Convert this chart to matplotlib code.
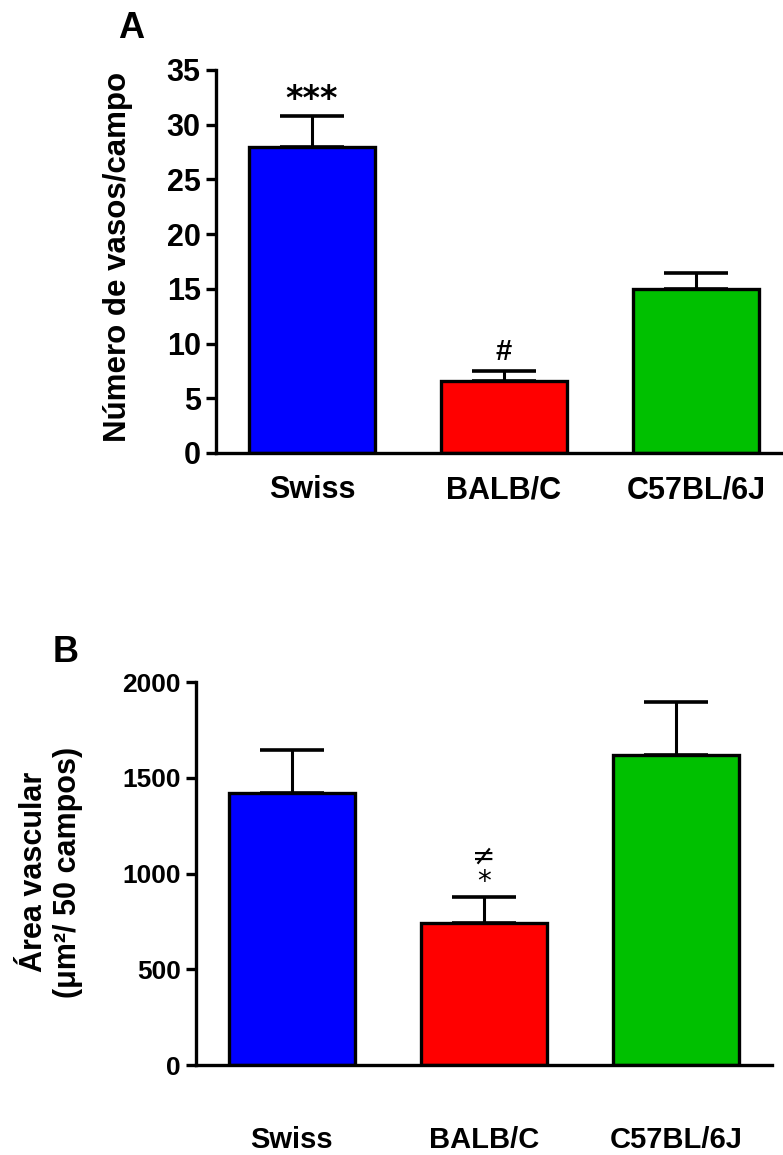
import matplotlib
matplotlib.use("Agg")
import matplotlib.pyplot as plt

plt.rcParams['font.family'] = ['Liberation Sans', 'DejaVu Sans']
plt.rcParams['font.weight'] = 'bold'

# data
strains = ['Swiss', 'BALB/C', 'C57BL/6J']
colors = ['#0000FF', '#FF0000', '#00C000']

vasos_mean = [27.95, 6.6, 15.0]
vasos_sem = [2.85, 0.85, 1.45]
vasos_marks = ['***', '#', '']

area_mean = [1420, 742, 1620]
area_sem = [225, 135, 276]
area_marks = ['', '≠\n*', '']

fig = plt.figure(figsize=(7.83, 11.55), dpi=100)

# Panel A
axA = fig.add_axes([0.2759, 0.6078, 0.7356, 0.3316])
# Panel B
axB = fig.add_axes([0.2503, 0.0779, 0.7356, 0.3316])


def draw(ax, means, sems, ymax, ystep, tsize, xpad):
    x = range(len(strains))
    ax.errorbar(x, means, yerr=[[0] * len(sems), sems], fmt='none',
                ecolor='black', elinewidth=2.2, capsize=23, capthick=2.6,
                zorder=1)
    ax.bar(x, means, width=0.66, color=colors, edgecolor='black',
           linewidth=2.4, zorder=2)
    ax.set_xlim(-0.5, 2.5)
    ax.set_ylim(0, ymax)
    ax.set_yticks(range(0, ymax + 1, ystep))
    ax.set_xticks(list(x))
    ax.set_xticklabels(strains)
    for s in ['top', 'right']:
        ax.spines[s].set_visible(False)
    for s in ['left', 'bottom']:
        ax.spines[s].set_linewidth(2.4)
    ax.tick_params(axis='y', length=7, width=2.4, pad=4, labelsize=tsize)
    ax.tick_params(axis='x', length=0, pad=xpad, labelsize=21)
    for lab in ax.get_xticklabels() + ax.get_yticklabels():
        lab.set_fontweight('bold')


draw(axA, vasos_mean, vasos_sem, 35, 5, 22, 16)
draw(axB, area_mean, area_sem, 2000, 500, 19, 44)
for lab in axA.get_xticklabels():
    lab.set_fontsize(22)

for i, m in enumerate(vasos_marks):
    if m == '***':
        axA.annotate(m, (i, vasos_mean[i] + vasos_sem[i]), xytext=(0, 0),
                     textcoords='offset points', ha='center', va='bottom',
                     fontsize=24, fontweight='bold', family=['DejaVu Sans'])
    elif m:
        axA.annotate(m, (i, vasos_mean[i] + vasos_sem[i]), xytext=(0, 4),
                     textcoords='offset points', ha='center', va='bottom',
                     fontsize=21, fontweight='bold')

for i, m in enumerate(area_marks):
    if m:
        axB.annotate(m, (i, area_mean[i] + area_sem[i]), xytext=(0, 1),
                     textcoords='offset points', ha='center', va='bottom',
                     fontsize=20, fontweight='normal', linespacing=0.85,
                     family=['DejaVu Sans'])

fig.text(118 / 783, 1 - 257 / 1155, 'Número de vasos/campo', rotation=90,
         ha='center', va='center', fontsize=22.5, fontweight='bold')
fig.text(51 / 783, 1 - 872 / 1155, 'Área vascular\n(μm²/ 50 campos)',
         rotation=90, ha='center', va='center', fontsize=22,
         fontweight='bold', multialignment='center', linespacing=1.2)

fig.text(131 / 783, 1 - 29 / 1155, 'A', ha='center', va='center',
         fontsize=26, fontweight='bold')
fig.text(66 / 783, 1 - 653 / 1155, 'B', ha='center', va='center',
         fontsize=26, fontweight='bold')

fig.savefig('out.png', dpi=100)
